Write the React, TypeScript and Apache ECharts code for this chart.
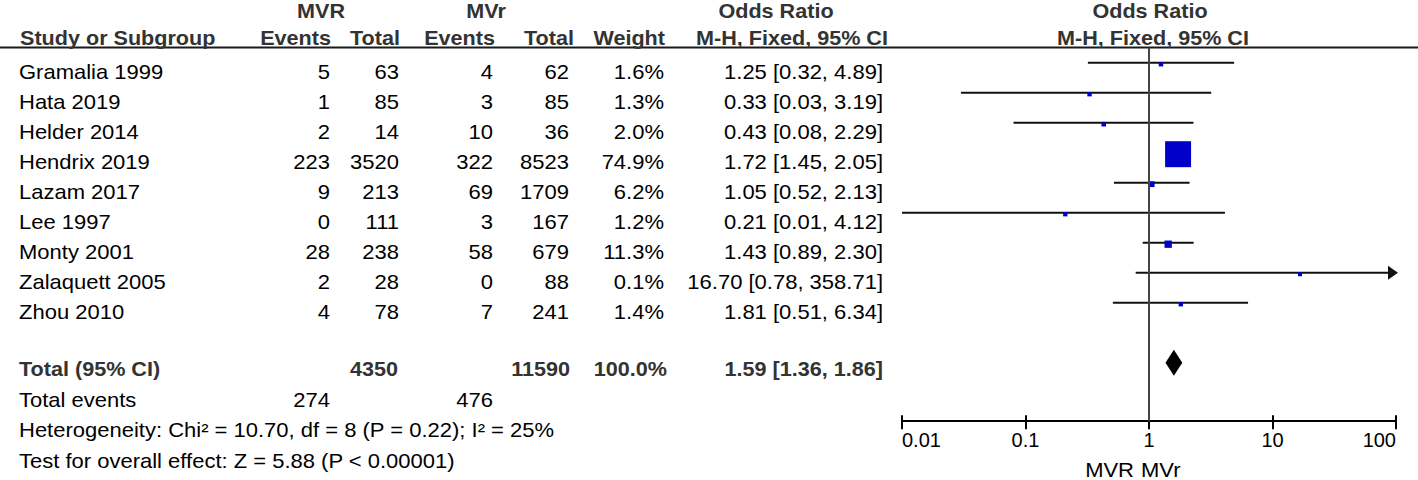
import React, { useEffect, useRef } from "react";
import * as echarts from "echarts";

// ---------- data ----------
const studies = ["Gramalia 1999", "Hata 2019", "Helder 2014", "Hendrix 2019", "Lazam 2017", "Lee 1997", "Monty 2001", "Zalaquett 2005", "Zhou 2010"];
const mvrEvents = [5, 1, 2, 223, 9, 0, 28, 2, 4];
const mvrTotal = [63, 85, 14, 3520, 213, 111, 238, 28, 78];
const mvrSmallEvents = [4, 3, 10, 322, 69, 3, 58, 0, 7];
const mvrSmallTotal = [62, 85, 36, 8523, 1709, 167, 679, 88, 241];
const weights = [1.6, 1.3, 2.0, 74.9, 6.2, 1.2, 11.3, 0.1, 1.4];
const orEst = [1.25, 0.33, 0.43, 1.72, 1.05, 0.21, 1.43, 16.7, 1.81];
const orLow = [0.32, 0.03, 0.08, 1.45, 0.52, 0.01, 0.89, 0.78, 0.51];
const orHigh = [4.89, 3.19, 2.29, 2.05, 2.13, 4.12, 2.3, 358.71, 6.34];

const pooled = [1.59, 1.36, 1.86]; // est, low, high
const totalN = [4350, 11590];
const totalEvents = [274, 476];
const totalWeight = 100.0;
const heterogeneityText = "Heterogeneity: Chi² = 10.70, df = 8 (P = 0.22); I² = 25%";
const overallText = "Test for overall effect: Z = 5.88 (P < 0.00001)";
const tickLabels = ["0.01", "0.1", "1", "10", "100"];
const groupNames = ["MVR", "MVr"];

const X_MIN = 0.01;
const X_MAX = 100;

const FONT = '"Liberation Sans", Arial, Helvetica, sans-serif';

function txt(text: string, x: number, y: number, align: string, bold = false) {
  return {
    type: "text",
    x,
    y,
    scaleX: bold ? 1.08 : 1.1,
    silent: true,
    style: {
      text,
      fill: bold ? "#333333" : "#000000",
      fontSize: 20,
      fontWeight: bold ? "bold" : "normal",
      fontFamily: FONT,
      align,
      textAlign: align,
      verticalAlign: "middle",
      textVerticalAlign: "middle",
    },
  };
}

const fmtCI = (e: number, l: number, h: number) => `${e.toFixed(2)} [${l.toFixed(2)}, ${h.toFixed(2)}]`;

export default function App() {
  const ref = useRef<HTMLDivElement>(null);

  useEffect(() => {
    if (!ref.current) return;
    const chart = echarts.init(ref.current, undefined, { renderer: "svg" });

    const rowTextY = (i: number) => 71.5 + 30 * i;
    const totalRow = studies.length + 1;

    const graphics: any[] = [];
    // header line
    graphics.push({
      type: "line",
      silent: true,
      shape: { x1: 0, y1: 47.5, x2: 1418, y2: 47.5 },
      style: { stroke: "#1a1a1a", lineWidth: 2 },
    });
    // header row 1
    const h1 = 11;
    graphics.push(txt(groupNames[0], 321, h1, "center", true));
    graphics.push(txt(groupNames[1], 486, h1, "center", true));
    graphics.push(txt("Odds Ratio", 776, h1, "center", true));
    graphics.push(txt("Odds Ratio", 1150, h1, "center", true));
    // header row 2
    const h2 = 37.5;
    graphics.push(txt("Study or Subgroup", 20, h2, "left", true));
    graphics.push(txt("Events", 331, h2, "right", true));
    graphics.push(txt("Total", 400, h2, "right", true));
    graphics.push(txt("Events", 495, h2, "right", true));
    graphics.push(txt("Total", 574, h2, "right", true));
    graphics.push(txt("Weight", 665, h2, "right", true));
    graphics.push(txt("M-H, Fixed, 95% CI", 792, h2, "center", true));
    graphics.push(txt("M-H, Fixed, 95% CI", 1153, h2, "center", true));

    // study rows
    studies.forEach((s, i) => {
      const y = rowTextY(i);
      graphics.push(txt(s, 19, y, "left"));
      graphics.push(txt(String(mvrEvents[i]), 330, y, "right"));
      graphics.push(txt(String(mvrTotal[i]), 399, y, "right"));
      graphics.push(txt(String(mvrSmallEvents[i]), 493, y, "right"));
      graphics.push(txt(String(mvrSmallTotal[i]), 569, y, "right"));
      graphics.push(txt(weights[i].toFixed(1) + "%", 664, y, "right"));
      graphics.push(txt(fmtCI(orEst[i], orLow[i], orHigh[i]), 883, y, "right"));
    });

    // totals
    graphics.push(txt("Total (95% CI)", 19, 369, "left", true));
    graphics.push(txt(String(totalN[0]), 398, 369, "right", true));
    graphics.push(txt(String(totalN[1]), 570, 369, "right", true));
    graphics.push(txt(totalWeight.toFixed(1) + "%", 667, 369, "right", true));
    graphics.push(txt(fmtCI(pooled[0], pooled[1], pooled[2]), 883, 369, "right", true));
    graphics.push(txt("Total events", 19, 400, "left"));
    graphics.push(txt(String(totalEvents[0]), 330, 400, "right"));
    graphics.push(txt(String(totalEvents[1]), 493, 400, "right"));
    graphics.push(txt(heterogeneityText, 19, 430, "left"));
    graphics.push(txt(overallText, 19, 460.5, "left"));

    // favours labels
    graphics.push(txt(groupNames[0], 1134, 469.5, "right"));
    graphics.push(txt(groupNames[1], 1141, 469.5, "left"));

    const gridTop = 47.7;
    const yMin = -0.5;
    const yMax = 11.95;
    const gridHeight = (yMax - yMin) * 30;
    const gridBottom = 480 - gridTop - gridHeight;

    const labelFor = (v: number) => {
      const idx = Math.round(Math.log10(v)) + 2;
      return tickLabels[idx] ?? "";
    };

    const gridBox = { left: 902, right: 22, top: gridTop, bottom: gridBottom, containLabel: false };

    const option: any = {
      animation: false,
      graphic: { elements: graphics },
      grid: [gridBox, { ...gridBox }],
      xAxis: [
        {
          type: "log",
          gridIndex: 0,
          logBase: 10,
          min: X_MIN,
          max: X_MAX,
          splitNumber: 4,
          position: "bottom",
          axisLine: { show: true, onZero: false, lineStyle: { color: "#000", width: 2 } },
          axisTick: { show: true, inside: false, length: 8, lineStyle: { color: "#000", width: 2 } },
          axisLabel: {
            show: true,
            margin: 9,
            color: "#000",
            fontSize: 20,
            fontFamily: FONT,
            formatter: labelFor,
            alignMinLabel: "left",
            alignMaxLabel: "right",
          },
          splitLine: { show: false },
        },
        {
          type: "log",
          gridIndex: 1,
          logBase: 10,
          min: X_MIN,
          max: X_MAX,
          splitNumber: 4,
          position: "bottom",
          axisLine: { show: false, onZero: false },
          axisTick: { show: true, inside: true, length: 6, lineStyle: { color: "#000", width: 2 } },
          axisLabel: { show: false },
          splitLine: { show: false },
        },
      ],
      yAxis: [
        {
          type: "value",
          gridIndex: 0,
          inverse: true,
          min: yMin,
          max: yMax,
          show: false,
          splitLine: { show: false },
        },
        {
          type: "value",
          gridIndex: 1,
          min: 0,
          max: 1,
          show: false,
          splitLine: { show: false },
        },
      ],
      series: [
        {
          type: "custom",
          xAxisIndex: 0,
          yAxisIndex: 0,
          encode: { x: [0, 1], y: 2 },
          data: studies.map((_, i) => [orLow[i], orHigh[i], i]),
          renderItem: (params: any, api: any) => {
            const lo = api.value(0);
            const hi = api.value(1);
            const row = api.value(2);
            const p1 = api.coord([lo, row]);
            const p2 = api.coord([Math.min(hi, X_MAX), row]);
            const children: any[] = [
              {
                type: "line",
                shape: { x1: p1[0], y1: p1[1], x2: p2[0], y2: p2[1] },
                style: { stroke: "#111", lineWidth: 2 },
              },
            ];
            if (hi > X_MAX) {
              children.push({
                type: "polygon",
                shape: {
                  points: [
                    [p2[0] - 8, p2[1] - 7],
                    [p2[0] + 2, p2[1]],
                    [p2[0] - 8, p2[1] + 7],
                  ],
                },
                style: { fill: "#111" },
              });
            }
            return { type: "group", children };
          },
          markLine: {
            silent: true,
            symbol: ["none", "none"],
            label: { show: false },
            lineStyle: { color: "#444", width: 2, type: "solid" },
            data: [{ xAxis: 1 }],
          },
          z: 2,
        },
        {
          type: "scatter",
          xAxisIndex: 0,
          yAxisIndex: 0,
          data: studies.map((_, i) => [orEst[i], i, weights[i]]),
          symbol: "rect",
          symbolSize: (val: number[]) => 4 + (22 * val[2]) / 75,
          symbolOffset: [0, 1.5],
          itemStyle: { color: "#0000C8", opacity: 1 },
          z: 3,
        },
        {
          type: "custom",
          xAxisIndex: 0,
          yAxisIndex: 0,
          encode: { x: [0, 1, 2], y: 3 },
          data: [[pooled[1], pooled[0], pooled[2], totalRow]],
          renderItem: (params: any, api: any) => {
            const row = api.value(3);
            const pl = api.coord([api.value(0), row]);
            const pe = api.coord([api.value(1), row]);
            const ph = api.coord([api.value(2), row]);
            const h = 13;
            return {
              type: "polygon",
              shape: {
                points: [
                  [pl[0], pl[1]],
                  [pe[0], pe[1] - h],
                  [ph[0], ph[1]],
                  [pe[0], pe[1] + h],
                ],
              },
              style: { fill: "#000" },
            };
          },
          z: 3,
        },
      ],
    };

    chart.setOption(option);
    return () => chart.dispose();
  }, []);

  return (
    <div
      ref={ref}
      style={{ position: "absolute", left: 0, top: 0, width: 1418, height: 480, background: "#fff" }}
    />
  );
}
